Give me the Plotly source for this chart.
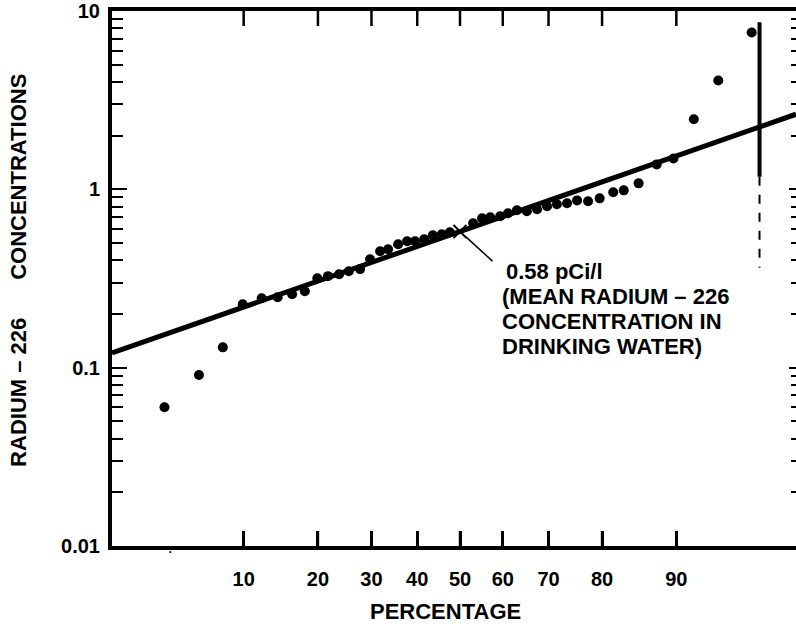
import math
from statistics import NormalDist

import plotly.graph_objects as go

# Cumulative percentage (plotting position) of each water sample
percent = [4.0, 6.1, 8.0, 9.9, 12.0, 14.0, 16.0, 17.9, 19.9, 21.7, 23.7, 25.5,
           27.7, 29.7, 31.8, 33.5, 35.7, 37.7, 39.5, 41.6, 43.6, 45.7, 47.6,
           53.1, 55.2, 57.1, 59.4, 61.2, 63.2, 65.4, 67.6, 69.7, 71.7, 73.7,
           75.6, 77.6, 79.6, 81.8, 83.4, 85.5, 87.8, 89.7, 91.7, 93.7, 95.8]
# Radium-226 concentration of each sample (pCi/l)
radium = [0.060, 0.091, 0.130, 0.227, 0.245, 0.248, 0.258, 0.268, 0.317, 0.326,
          0.334, 0.347, 0.357, 0.405, 0.450, 0.461, 0.492, 0.511, 0.511, 0.525,
          0.552, 0.560, 0.574, 0.645, 0.688, 0.697, 0.706, 0.734, 0.763, 0.753,
          0.773, 0.803, 0.824, 0.835, 0.867, 0.857, 0.890, 0.962, 0.987, 1.08,
          1.38, 1.49, 2.47, 4.08, 7.58]

# Fitted log-normal distribution: geometric mean and geometric std. deviation
mean_conc = 0.58
gsd = 2.14

x_tick_pct = [10, 20, 30, 40, 50, 60, 70, 80, 90]
y_decades = [0.01, 0.1, 1, 10]
y_tick_text = ["0.01", "0.1", "1", "10"]

label_lines = ["0.58 pCi/l", "(MEAN RADIUM – 226", "CONCENTRATION IN",
               "DRINKING WATER)"]

nd = NormalDist()


def probit(p):
    """Normal-probability axis coordinate for a percentage."""
    return nd.inv_cdf(p / 100.0)


X_RANGE = [-2.0616, 1.9905]
Y_RANGE = [-2, 1]
PX_PER_DECADE = 535 / 3  # plot-area height over three decades
TICK_PX = 15

FONT = "Liberation Sans, Arial, Helvetica, sans-serif"

# fitted line across the full width of the probability axis
fit_x = list(X_RANGE)
fit_y = [mean_conc * gsd ** z for z in fit_x]

minor_vals = [m * d for d in [0.01, 0.1, 1] for m in range(2, 10)]
x_tickvals = [probit(p) for p in x_tick_pct]

# percentage tick marks along the bottom and top edges, pointing inward
y_lo, y_hi = 10 ** Y_RANGE[0], 10 ** Y_RANGE[1]
tick_fac = 10 ** (TICK_PX / PX_PER_DECADE)
tick_x, tick_y = [], []
for xv in x_tickvals:
    tick_x += [xv, xv, None, xv, xv, None]
    tick_y += [y_lo, y_lo * tick_fac, None, y_hi, y_hi / tick_fac, None]

fig = go.Figure()

fig.add_trace(go.Scatter(
    x=tick_x, y=tick_y, mode="lines", line=dict(color="black", width=2.5),
    hoverinfo="skip", showlegend=False, cliponaxis=False,
))

fig.add_trace(go.Scatter(
    x=fit_x, y=fit_y, mode="lines", yaxis="y2",
    line=dict(color="black", width=5), hoverinfo="skip", showlegend=False,
))

fig.add_trace(go.Scatter(
    x=[probit(p) for p in percent], y=radium, mode="markers",
    marker=dict(color="black", size=10, line=dict(width=0)),
    showlegend=False,
))

# cross marking the mean on the fitted line
fig.add_trace(go.Scatter(
    x=[probit(50)], y=[mean_conc], mode="markers",
    marker=dict(symbol="x-thin-open", size=13, color="black",
                line=dict(width=2, color="black")),
    showlegend=False,
))

tickfont = dict(family=FONT, size=20, color="black", weight="bold")

fig.update_layout(
    width=796, height=627,
    margin=dict(l=112, r=0, t=11, b=81),
    paper_bgcolor="white", plot_bgcolor="white",
    font=dict(family=FONT, color="black"),
    xaxis=dict(
        range=X_RANGE, showgrid=False, zeroline=False,
        showline=True, linewidth=4, linecolor="black", mirror=True,
        ticks="inside", ticklen=15, tickwidth=2.5, tickcolor="black",
        tickvals=x_tickvals, ticktext=[str(p) for p in x_tick_pct],
        tickfont=tickfont, ticklabelstandoff=12,
    ),
    yaxis=dict(
        type="log", range=Y_RANGE, showgrid=False, zeroline=False,
        showline=True, linewidth=4, linecolor="black", mirror=False,
        ticks="inside", ticklen=15, tickwidth=2, tickcolor="black",
        tickvals=y_decades, ticktext=y_tick_text,
        tickfont=tickfont, ticklabelstandoff=4,
        minor=dict(tickvals=minor_vals, ticks="inside", ticklen=11,
                   tickwidth=2, tickcolor="black", showgrid=False),
    ),
    yaxis2=dict(
        type="log", range=Y_RANGE, overlaying="y", side="right",
        showgrid=False, zeroline=False, showline=False,
        ticks="inside", ticklen=7, tickwidth=2, tickcolor="black",
        tickvals=y_decades, showticklabels=False,
        minor=dict(tickvals=minor_vals, ticks="inside", ticklen=5,
                   tickwidth=2, tickcolor="black", showgrid=False),
    ),
)

fig.add_annotation(text="PERCENTAGE", xref="paper", yref="paper",
                   x=0.488, y=-0.123, showarrow=False,
                   xanchor="center", yanchor="middle",
                   font=dict(family=FONT, size=22, color="black", weight="bold"))

title_font = dict(family=FONT, size=22, color="black", weight="bold")
fig.add_annotation(text="CONCENTRATIONS", xref="paper", yref="paper",
                   x=-0.136, y=0.69, textangle=-90, showarrow=False,
                   font=title_font, xanchor="center", yanchor="middle")
fig.add_annotation(text="RADIUM – 226", xref="paper", yref="paper",
                   x=-0.136, y=0.288, textangle=-90, showarrow=False,
                   font=title_font, xanchor="center", yanchor="middle")

# leader from the mean to its label
fig.add_annotation(x=probit(50), y=math.log10(mean_conc), xref="x", yref="y",
                   text="", showarrow=True, arrowhead=0, arrowwidth=1.5,
                   arrowcolor="black", ax=34, ay=31, standoff=8)
for i, line in enumerate(label_lines):
    fig.add_annotation(
        x=probit(50), y=math.log10(mean_conc), xref="x", yref="y",
        text=line, showarrow=False, xanchor="left", yanchor="middle",
        xshift=44 if i == 0 else 40, yshift=-40 - 25 * i,
        font=dict(family=FONT, size=22, color="black", weight="bold"),
    )

# small printed speck below the axis
fig.add_annotation(text="•", xref="x", yref="paper", x=-1.718, y=-0.021,
                   showarrow=False, font=dict(size=7, color="black"))

# vertical crease line on the right of the sheet
crease_x = probit(96.2)
fig.add_shape(type="line", xref="x", yref="paper", x0=crease_x, x1=crease_x,
              y0=0.979, y1=0.69, line=dict(color="black", width=4))
fig.add_shape(type="line", xref="x", yref="paper", x0=crease_x, x1=crease_x,
              y0=0.69, y1=0.52, line=dict(color="black", width=2, dash="dash"))

fig.write_html("out.html")
